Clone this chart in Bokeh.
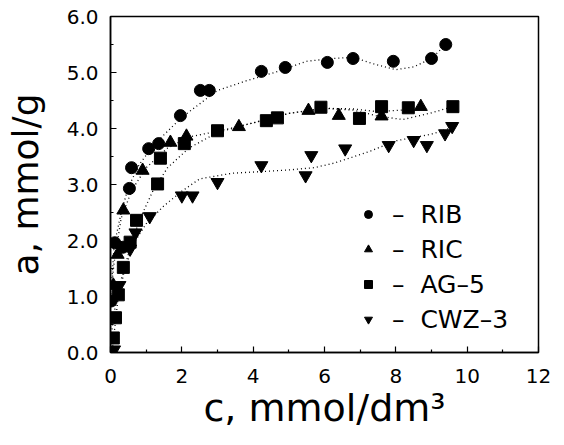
from bokeh.plotting import figure
from bokeh.models import FixedTicker, PrintfTickFormatter
from bokeh.embed import file_html
from bokeh.resources import INLINE

# ---- data ----
rib_x = [0.02, 0.12, 0.35, 0.53, 0.59, 1.07, 1.35, 1.96, 2.52, 2.77, 4.23, 4.9, 6.08, 6.8, 7.93, 9.0, 9.4]
rib_y = [0.92, 1.96, 1.88, 2.93, 3.3, 3.64, 3.73, 4.23, 4.68, 4.68, 5.02, 5.09, 5.18, 5.25, 5.2, 5.25, 5.5]

ric_x = [0.08, 0.2, 0.36, 0.9, 1.68, 2.13, 3.6, 5.55, 6.4, 7.6, 8.7]
ric_y = [1.2, 1.75, 2.54, 3.25, 3.75, 3.86, 4.03, 4.32, 4.23, 4.22, 4.39]

ag5_x = [0.08, 0.14, 0.22, 0.36, 0.55, 0.73, 1.32, 1.4, 2.07, 3.0, 4.37, 4.68, 5.9, 6.98, 7.6, 8.35, 9.6]
ag5_y = [0.26, 0.62, 1.03, 1.52, 1.97, 2.36, 3.01, 3.47, 3.73, 3.96, 4.14, 4.19, 4.38, 4.18, 4.39, 4.37, 4.39]

cwz_x = [0.1, 0.12, 0.25, 0.55, 0.7, 1.1, 2.0, 2.3, 3.0, 4.23, 5.47, 5.63, 6.58, 7.8, 8.5, 8.87, 9.38, 9.58]
cwz_y = [0.05, 0.65, 1.2, 1.85, 2.14, 2.43, 2.8, 2.8, 3.04, 3.34, 3.16, 3.52, 3.64, 3.7, 3.79, 3.7, 3.91, 4.04]

# fitted (dotted) curves
rib_cx = [0, 0.1, 0.3, 0.5, 0.8, 1.2, 2.0, 3.0, 3.8, 4.6, 5.5, 6.2, 6.8, 7.4, 8.0, 8.5, 9.0, 9.4]
rib_cy = [0.9, 1.9, 2.5, 2.95, 3.35, 3.7, 4.2, 4.68, 4.85, 5.0, 5.2, 5.25, 5.27, 5.15, 5.05, 5.1, 5.25, 5.5]

ric_cx = [0, 0.1, 0.3, 0.6, 1.0, 1.6, 2.2, 3.0, 4.0, 5.0, 6.0, 6.8, 7.5, 8.2, 8.7]
ric_cy = [1.0, 1.6, 2.4, 2.9, 3.3, 3.65, 3.85, 3.95, 4.1, 4.27, 4.36, 4.35, 4.3, 4.33, 4.39]

ag5_cx = [0, 0.1, 0.25, 0.5, 0.8, 1.2, 1.6, 2.2, 3.0, 4.0, 5.0, 6.0, 6.8, 7.5, 8.2, 9.0, 9.6]
ag5_cy = [0.2, 0.7, 1.2, 1.75, 2.35, 2.9, 3.3, 3.65, 3.93, 4.1, 4.27, 4.36, 4.33, 4.22, 4.16, 4.28, 4.39]

cwz_cx = [0.05, 0.2, 0.4, 0.7, 1.0, 1.5, 2.0, 2.5, 3.4, 4.2, 5.0, 5.7, 6.2, 6.7, 7.3, 8.0, 9.0, 9.6]
cwz_cy = [0.05, 0.9, 1.5, 2.0, 2.3, 2.62, 2.88, 3.1, 3.2, 3.23, 3.26, 3.3, 3.37, 3.47, 3.6, 3.78, 3.9, 4.02]

x_ticks = [0, 2, 4, 6, 8, 10, 12]
x_minor = [1, 3, 5, 7, 9, 11]
y_ticks = [0, 1, 2, 3, 4, 5, 6]
y_minor = [0.5, 1.5, 2.5, 3.5, 4.5, 5.5]

FONT = "DejaVu Sans"

p = figure(width=564, height=445, x_range=(0, 12), y_range=(0, 6),
           output_backend="svg", toolbar_location=None,
           min_border_left=110, min_border_right=26,
           min_border_top=16, min_border_bottom=93)
p.xgrid.visible = False
p.ygrid.visible = False
p.outline_line_color = "black"
p.outline_line_width = 1.5
p.background_fill_color = "white"
p.border_fill_color = "white"

for ax, ticks, minor in ((p.xaxis[0], x_ticks, x_minor), (p.yaxis[0], y_ticks, y_minor)):
    ax.ticker = FixedTicker(ticks=ticks, minor_ticks=minor)
    ax.major_tick_in = 6
    ax.major_tick_out = 0
    ax.minor_tick_in = 3
    ax.minor_tick_out = 0
    ax.axis_line_width = 1.5
    ax.major_tick_line_width = 1.2
    ax.minor_tick_line_width = 1.2
    ax.major_label_text_font = FONT
    ax.major_label_text_font_size = "20px"
    ax.major_label_text_color = "black"
    ax.axis_label_text_font = FONT
    ax.axis_label_text_font_style = "normal"
    ax.axis_label_text_color = "black"

p.xaxis[0].axis_label_text_font_size = "38px"
p.yaxis[0].axis_label_text_font_size = "36px"
p.xaxis[0].major_label_standoff = 16
p.yaxis[0].major_label_standoff = 12
p.yaxis[0].formatter = PrintfTickFormatter(format="%.1f")
p.xaxis[0].axis_label = "c, mmol/dm³"
p.yaxis[0].axis_label = "a, mmol/g"
p.xaxis[0].axis_label_standoff = 0
p.yaxis[0].axis_label_standoff = 18

dash = "1 3"
for cx, cy in ((rib_cx, rib_cy), (ric_cx, ric_cy), (ag5_cx, ag5_cy), (cwz_cx, cwz_cy)):
    p.line(cx, cy, line_color="black", line_width=1.3, line_dash=dash)

p.scatter(rib_x, rib_y, marker="circle", size=12, color="black", legend_label="–\u00a0\u00a0RIB")
p.scatter(ric_x, ric_y, marker="triangle", size=13, color="black", legend_label="–\u00a0\u00a0RIC")
p.scatter(ag5_x, ag5_y, marker="square", size=12, color="black", legend_label="–\u00a0\u00a0AG–5")
p.scatter(cwz_x, cwz_y, marker="inverted_triangle", size=13, color="black", legend_label="–\u00a0\u00a0CWZ–3")

lg = p.legend[0]
lg.location = (248, 18)
lg.border_line_color = None
lg.background_fill_alpha = 0
lg.label_text_font = FONT
lg.label_text_font_size = "25px"
lg.label_text_color = "black"
lg.glyph_width = 20
lg.glyph_height = 30
lg.label_height = 30
lg.label_standoff = 14
lg.spacing = 5
lg.padding = 10
lg.margin = 0

open("out.html", "w").write(file_html(p, INLINE))
